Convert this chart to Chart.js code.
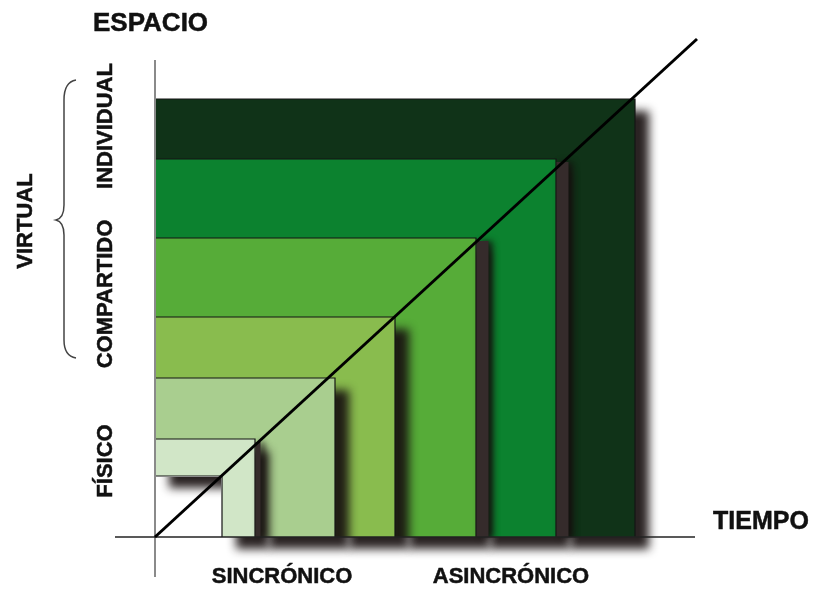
<!DOCTYPE html>
<html>
<head>
<meta charset="utf-8">
<script src="https://cdn.jsdelivr.net/npm/chart.js@4.4.1/dist/chart.umd.min.js"></script>
<style>
    html, body { margin: 0; padding: 0; background: #fff; }
    #wrap { position: relative; width: 814px; height: 589px; }
</style>
</head>
<body>
<div id="wrap"><canvas id="myChart"></canvas></div>
<script>
// extent of each nested block: time (x) and space (y)
const TIEMPO = [6.7, 10, 18, 24, 32.1, 40.1, 48];
const ESPACIO = [6.1, 9.8, 15.9, 22, 29.9, 37.8, 43.8];
const DIAGONAL_END = [54.2, 49.8];
const X_AXIS = [-4, 54];
const Y_AXIS = [-4, 47.7];

const BAND_COLORS = ['#ffffff', '#d1e6c7', '#a9ce8f', '#89bc4e', '#56ac38', '#0c822f', '#103318'];
const EDGE_PX = [0, 5, 0, 0, 12, 12, 0];
const FIRST_BAND = 3;

const SHADOW = { dx: 14, dy: 12, blur: 10, color: 'rgba(24, 16, 16, 0.92)' };
const OFF = 4000;
const FONT = '"Liberation Sans", Arial, sans-serif';

const ctx = document.getElementById('myChart');

function rectPx(chart, i) {
    const { x, y } = chart.scales;
    return {
        x0: x.getPixelForValue(0),
        y0: y.getPixelForValue(0),
        x1: x.getPixelForValue(TIEMPO[i]),
        y1: y.getPixelForValue(ESPACIO[i]),
    };
}

// shadow of the L shaped band i (block i minus block i-1)
function bandShadow(chart, i, clip) {
    const c = chart.ctx;
    const dpr = chart.currentDevicePixelRatio || 1;
    const r = rectPx(chart, i);
    c.save();
    if (clip) {
        c.beginPath();
        c.rect(clip.x0 + 1, clip.y1 + 1, clip.x1 - clip.x0 - 2, clip.y0 - clip.y1 - 1);
        c.clip();
    }
    c.shadowColor = SHADOW.color;
    c.shadowBlur = SHADOW.blur * dpr;
    c.shadowOffsetX = (SHADOW.dx + OFF) * dpr;
    c.shadowOffsetY = SHADOW.dy * dpr;
    c.beginPath();
    c.rect(r.x0 - OFF, r.y1, r.x1 - r.x0, r.y0 - r.y1);
    if (i > 0) {
        const q = rectPx(chart, i - 1);
        c.rect(q.x0 - OFF, q.y1, q.x1 - q.x0, q.y0 - q.y1);
    }
    c.fillStyle = '#000';
    c.fill('evenodd');
    c.restore();
}

function drawEdge(chart, i) {
    if (!EDGE_PX[i]) return;
    const c = chart.ctx;
    const dpr = chart.currentDevicePixelRatio || 1;
    const r = rectPx(chart, i);
    c.save();
    c.shadowColor = 'rgba(20, 14, 14, 0.8)';
    c.shadowBlur = 6 * dpr;
    c.shadowOffsetX = 4 * dpr;
    c.fillStyle = '#352b2b';
    c.fillRect(r.x1 + 0.5, r.y1 + 3, EDGE_PX[i], r.y0 - r.y1 - 3);
    c.restore();
}

function label(c, text, x, y) {
    c.fillText(text, x, y);
    c.strokeText(text, x, y);
}

function vText(c, text, cx, cy, size) {
    c.save();
    c.translate(cx, cy);
    c.rotate(-Math.PI / 2);
    c.textAlign = 'center';
    c.textBaseline = 'alphabetic';
    label(c, text, 0, size * 0.358);
    c.restore();
}

const bandPlugin = {
    id: 'bandas',
    beforeDatasetsDraw(chart) {
        bandShadow(chart, TIEMPO.length - 1);
    },
    afterDatasetDraw(chart, args) {
        const i = args.index - FIRST_BAND;
        if (i < 0) return;
        drawEdge(chart, i);
        if (i >= 2) bandShadow(chart, i - 1);
        if (i === 0) bandShadow(chart, 1, rectPx(chart, 0));
    },
    afterDraw(chart) {
        const c = chart.ctx;
        c.save();
        c.fillStyle = '#111';
        c.strokeStyle = '#111';
        c.lineWidth = 0.5;
        c.textAlign = 'left';
        c.textBaseline = 'alphabetic';
        c.font = `bold 26px ${FONT}`;
        label(c, 'ESPACIO', 93, 31);
        c.font = `bold 25px ${FONT}`;
        label(c, 'TIEMPO', 713, 529);

        c.font = `bold 22px ${FONT}`;
        c.textAlign = 'center';
        label(c, 'SINCRÓNICO', 282, 583);
        label(c, 'ASINCRÓNICO', 511, 583);

        vText(c, 'INDIVIDUAL', 104, 126, 22);
        vText(c, 'COMPARTIDO', 104, 294, 22);
        vText(c, 'FÍSICO', 104, 461, 22);
        vText(c, 'VIRTUAL', 24, 221, 22);

        // brace grouping the two virtual rows
        c.strokeStyle = '#444';
        c.lineWidth = 1.5;
        c.beginPath();
        c.moveTo(76, 80);
        c.quadraticCurveTo(64, 82, 64, 100);
        c.lineTo(64, 205);
        c.quadraticCurveTo(64, 218, 56, 220);
        c.quadraticCurveTo(64, 222, 64, 235);
        c.lineTo(64, 340);
        c.quadraticCurveTo(64, 356, 76, 358);
        c.stroke();
        c.restore();
    }
};

const bandSets = TIEMPO.map((w, i) => ({
    label: 'bloque ' + (i + 1),
    data: [{ x: 0, y: ESPACIO[i] }, { x: w, y: ESPACIO[i] }, { x: w, y: 0 }],
    backgroundColor: BAND_COLORS[i],
    borderColor: '#141414',
    borderWidth: 1.2,
    fill: 'origin',
}));

new Chart(ctx, {
    type: 'line',
    data: {
        datasets: [
            {
                label: 'diagonal',
                data: [{ x: 0, y: 0 }, { x: DIAGONAL_END[0], y: DIAGONAL_END[1] }],
                borderColor: '#000',
                borderWidth: 3,
                fill: false,
            },
            {
                label: 'tiempo',
                data: [{ x: X_AXIS[0], y: 0 }, { x: X_AXIS[1], y: 0 }],
                borderColor: '#222',
                borderWidth: 1.5,
                fill: false,
            },
            {
                label: 'espacio',
                data: [{ x: 0, y: Y_AXIS[0] }, { x: 0, y: Y_AXIS[1] }],
                borderColor: '#8a8a8a',
                borderWidth: 2,
                fill: false,
            },
            ...bandSets,
        ]
    },
    options: {
        responsive: true,
        maintainAspectRatio: false,
        animation: false,
        layout: { padding: { left: 115, right: 99, top: 17, bottom: 12 } },
        elements: {
            point: { radius: 0, hoverRadius: 0 },
            line: { tension: 0 },
        },
        plugins: {
            legend: { display: false },
            tooltip: { enabled: false },
        },
        scales: {
            x: { type: 'linear', min: -4, max: 56, display: false },
            y: { type: 'linear', min: -4, max: 52, display: false },
        }
    },
    plugins: [bandPlugin]
});
</script>
</body>
</html>
